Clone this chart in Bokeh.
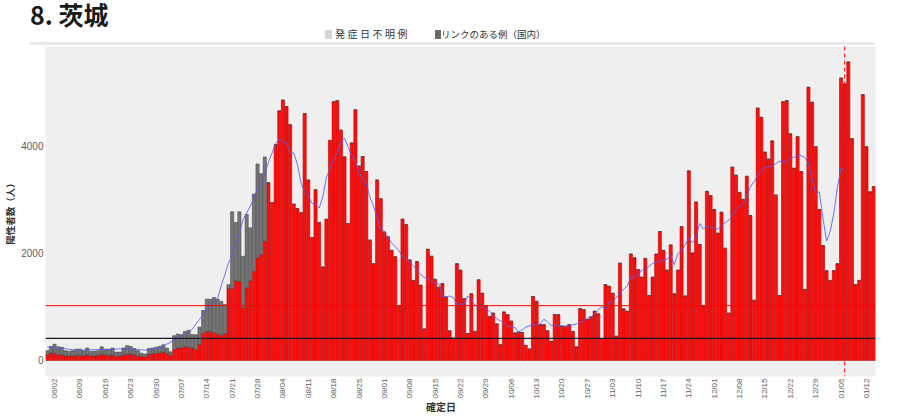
import numpy as np
import pandas as pd

from bokeh.plotting import figure
from bokeh.layouts import column
from bokeh.models import FixedTicker, Span, ColumnDataSource, Div
from bokeh.embed import file_html
from bokeh.resources import INLINE

start_date = "2022-05-31"

# daily positives (total bar height), 05/31 .. 01/14
total_cases = [
    180, 260, 300, 255, 243, 180, 170, 180, 210, 210, 180, 230, 170, 170, 180, 255, 210, 210,
    230, 155, 155, 230, 275, 260, 220, 180, 135, 120, 220, 230, 245, 260, 290, 230, 160,
    460, 490, 480, 540, 560, 480, 480, 620, 930, 1140, 1140, 1170, 1140, 1100, 1040,
    1410, 2770, 2570, 2770, 1940, 2720, 2470, 3100, 3660, 3480, 3790, 3310, 2940, 4020, 4650,
    4850, 4730, 4390, 2910, 2830, 2750, 4600, 3360, 2290, 3180, 2570, 1740, 2630, 4100,
    4820, 4840, 4290, 3790, 2550, 4050, 4670, 3620, 3800, 3520, 2240, 1800, 3360, 3010, 2390,
    2300, 2050, 1930, 1010, 2630, 2530, 1870, 1490, 1840, 1400, 585, 2070, 1940, 1510, 1360,
    1430, 1180, 550, 415, 1800, 1680, 1150, 500, 1240, 540,
    1500, 1250, 1020, 820, 880, 680, 290, 900, 850, 730, 510, 530, 520, 280, 210, 1190, 1100,
    665, 665, 550, 355, 850, 850, 635, 635, 665, 540, 250, 965, 945, 760, 810, 915, 865, 405,
    1410, 1380, 1250, 450, 1810,
    960, 915, 1980, 1910, 1690, 1550, 1900, 1210, 1550, 1980, 2400, 2050, 1680, 2150, 1240,
    1680, 2490, 1200, 3530, 2000, 2950, 2160, 1010, 3150, 3070, 2810, 2370, 2760, 2090, 880,
    3600, 3450, 3130, 3000, 3430, 2700, 1120,
    4700, 4530, 3880, 3750, 4090, 3080, 1210, 4820, 4840, 4220, 3580, 4170, 3520, 1320, 5090,
    4810, 3980, 2810, 2140, 1670, 1490, 1670, 1800, 5260, 5150, 5560, 4130, 1410, 1490, 4950,
    3980, 3140, 3240,
]

# red part of the bar while the grey "linked" part was shown (05/31 .. 07/30)
red_cases_early = [
    100, 140, 130, 110, 100, 80, 80, 85, 90, 95, 80, 100, 85, 80, 90, 110, 95, 90, 100, 75,
    80, 95, 110, 120, 100, 85, 70, 70, 110, 120, 130, 140, 150, 120, 90,
    200, 230, 230, 260, 240, 230, 200, 300, 500, 540, 540, 520, 490, 470, 500,
    1340, 1340, 1480, 1470, 975, 1350, 1480, 1660, 1910, 1970, 2220,
]

title = "8. 茨城"
legend_labels = ["発症日不明例", "リンクのある例（国内）"]
legend_colors = ["#d6d6d6", "#6a6a6a"]
hline_red = 1020
hline_black = 410
cutoff_date = "2023-01-06"
y_ticks = [0, 2000, 4000]

dates = pd.date_range(start_date, periods=len(total_cases), freq="D")
df = pd.DataFrame({"date": dates, "total": total_cases})
df["day"] = np.arange(len(df))
df["red"] = red_cases_early + total_cases[len(red_cases_early):]
df["zero"] = 0
df["ma"] = df["total"].rolling(7, center=True, min_periods=4).mean()
cutoff = int(df.index[df.date == pd.Timestamp(cutoff_date)][0])
ma = df[df.day <= cutoff]

src = ColumnDataSource(df[["day", "total", "red", "zero"]])
W = 888
FONT = "'Noto Sans CJK JP', sans-serif"

# ---- header: title, legend and the thin grey band above the panel
head_html = f"""
<div style="position:relative;width:{W}px;height:46px;font-family:{FONT};">
  <span style="position:absolute;left:30px;top:2px;font-size:25px;line-height:25px;
               font-weight:bold;color:#1a1a1a;white-space:nowrap;">{title}</span>
  <span style="position:absolute;left:325px;top:30px;width:7px;height:9px;
               background:{legend_colors[0]};"></span>
  <span style="position:absolute;left:335px;top:28px;font-size:10px;line-height:12px;
               letter-spacing:2.5px;color:#333;white-space:nowrap;">{legend_labels[0]}</span>
  <span style="position:absolute;left:435px;top:30px;width:6px;height:9px;
               background:{legend_colors[1]};"></span>
  <span style="position:absolute;left:441px;top:28px;font-size:9.5px;line-height:12px;
               color:#333;white-space:nowrap;">{legend_labels[1]}</span>
  <span style="position:absolute;left:30px;top:42px;width:845px;height:3px;
               background:#e9e9e9;"></span>
</div>"""
head = Div(text=head_html, width=W, height=46, margin=(0, 0, 0, 0),
           styles={"overflow": "visible"})

# ---- main chart
p = figure(width=W, height=355, x_range=(-0.5, len(df) - 0.5), y_range=(-300, 5850),
           title=None, output_backend="svg", toolbar_location=None,
           background_fill_color="#efefef", border_fill_color="white",
           outline_line_color=None,
           min_border_left=39, min_border_right=13, min_border_top=0, min_border_bottom=0)

p.xgrid.grid_line_color = None
p.ygrid.grid_line_color = None

p.vbar(x="day", bottom="zero", top="red", width=0.86, source=src,
       fill_color="#ff0d0d", line_color="#b30000", line_width=0.6)
p.vbar(x="day", bottom="red", top="total", width=0.86, source=src,
       fill_color="#767676", line_color="#444444", line_width=0.6)

p.add_layout(Span(location=hline_red, dimension="width", line_color="#ff0000", line_width=1))
p.add_layout(Span(location=hline_black, dimension="width", line_color="#1a1a1a", line_width=1.2))
p.add_layout(Span(location=cutoff, dimension="height", line_color="#ff0000",
                  line_width=1, line_dash="4 3"))

p.line(ma.day.tolist(), ma.ma.tolist(), line_color="#5a5af0", line_width=1, line_alpha=0.85)

ticks = [int(d) for d in df.day[2::7]]
p.xaxis.ticker = FixedTicker(ticks=ticks)
p.xaxis.major_label_overrides = {d: df.date[d].strftime("%m/%d") for d in ticks}
p.xaxis.major_label_orientation = np.pi / 2
p.yaxis.ticker = FixedTicker(ticks=y_ticks)
for ax in (p.xaxis, p.yaxis):
    ax.axis_line_color = None
    ax.major_tick_line_color = None
    ax.major_tick_out = 0
    ax.major_tick_in = 0
    ax.minor_tick_line_color = None
    ax.major_label_text_font = "Liberation Sans"
    ax.major_label_text_color = "#606060"
    ax.major_label_standoff = 2
p.xaxis.major_label_text_font_size = "8px"
p.yaxis.major_label_text_font_size = "10px"
p.yaxis.axis_label = "陽性者数（人）"
p.yaxis.axis_label_text_font = "Noto Sans CJK JP"
p.yaxis.axis_label_text_font_size = "9.5px"
p.yaxis.axis_label_text_font_style = "bold"
p.yaxis.axis_label_text_color = "#333333"
p.yaxis.axis_label_standoff = 1

# ---- footer: x axis title, drawn just under the tick labels
foot_html = f"""
<div style="position:relative;width:{W}px;height:1px;font-family:{FONT};">
  <span style="position:absolute;left:426px;top:-11px;font-size:10px;line-height:12px;
               font-weight:bold;color:#333;white-space:nowrap;">確定日</span>
</div>"""
foot = Div(text=foot_html, width=W, height=1, margin=(0, 0, 0, 0),
           styles={"overflow": "visible"})

open("out.html", "w").write(file_html(column(head, p, foot, spacing=0), INLINE))
